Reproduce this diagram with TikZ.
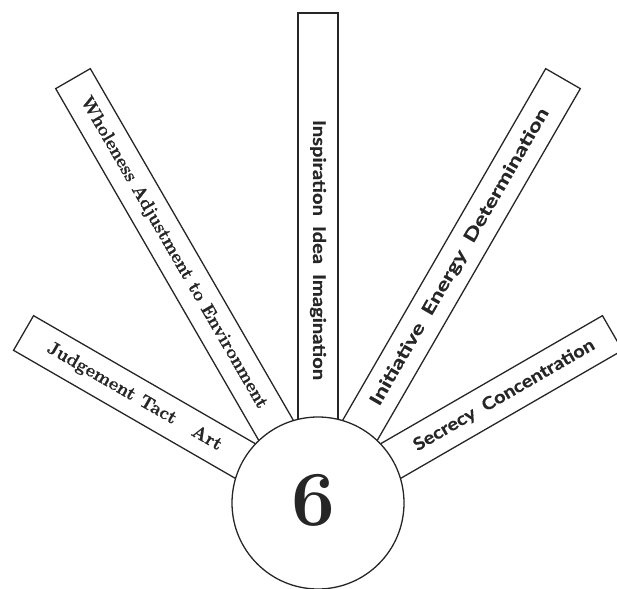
\documentclass[tikz,border=0pt]{standalone}
\usepackage{fontspec}
\newfontfamily\labsans[FakeBold=0.6]{Lato}
\newfontfamily\labser[FakeBold=1]{Latin Modern Roman}
\begin{document}
\begin{tikzpicture}[x=1pt,y=1pt,
  barbox/.style={draw=black!85, line width=1.3pt, rectangle, minimum height=40pt, inner sep=0pt},
  hub/.style={circle, draw=black!85, line width=1.3pt, fill=white, minimum size=172pt, inner sep=0pt},
  serlab/.style={font=\labser\bfseries\fontsize{18.5}{20}\selectfont, inner sep=0pt, text=black!85},
  sanslab/.style={font=\labsans\bfseries\fontsize{17.5}{20}\selectfont, inner sep=0pt, text=black!85},
  bignum/.style={font=\bfseries\fontsize{78}{80}\selectfont, inner sep=0pt, text=black!85}]
\useasboundingbox (-318,-85) rectangle (299,503);
% bars
\node[barbox, minimum width=280pt, rotate=150] (b1) at (150:200pt) {};
\node[barbox, minimum width=430pt, rotate=120] (b2) at (120:275pt) {};
\node[barbox, minimum width=430pt, rotate=90]  (b3) at (90:275pt) {};
\node[barbox, minimum width=430pt, rotate=60]  (b4) at (60:275pt) {};
\node[barbox, minimum width=280pt, rotate=30]  (b5) at (30:200pt) {};
% labels
\node[serlab, rotate=-30] (t1) at (150:212pt) {\resizebox{199pt}{\height}{Judgement\hspace{.4em}Tact\hspace{1.1em}Art}};
\node[serlab, rotate=-60] (t2) at (120:289pt) {\resizebox{357pt}{\height}{Wholeness Adjustment to Environment}};
\node[sanslab, rotate=-90] (t3) at (90:253pt) {\resizebox{260pt}{\height}{Inspiration\hspace{.5em}Idea\hspace{.5em}Imagination}};
\node[sanslab, rotate=60] (t4) at (60:284pt) {\resizebox{340pt}{\height}{Initiative\hspace{.5em}Energy\hspace{.5em}Determination}};
\node[sanslab, rotate=30] (t5) at (30:215pt) {\resizebox{206pt}{\height}{Secrecy\hspace{.5em}Concentration}};
% hub
\node[hub] (c) at (0,0) {};
\node[bignum] (six) at (-5pt,3pt) {6};
\end{tikzpicture}
\end{document}
